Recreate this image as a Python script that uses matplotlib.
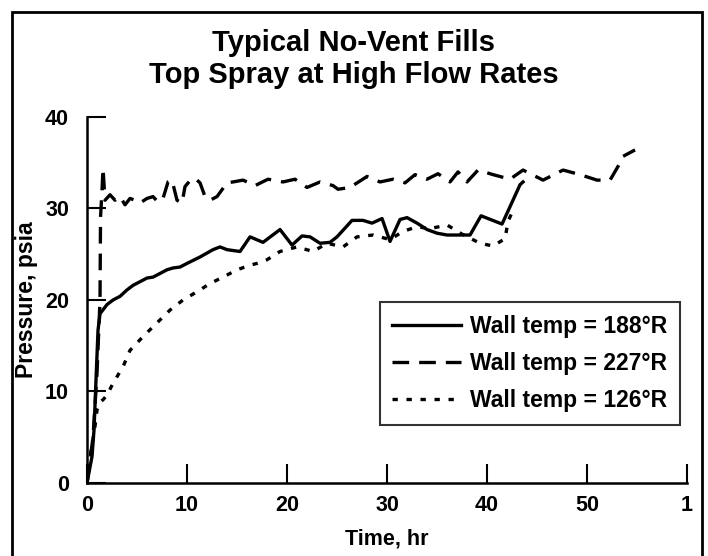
import matplotlib
matplotlib.use("Agg")
import matplotlib.pyplot as plt
from matplotlib.patches import Rectangle

# Data
t_188 = [0, 0.5, 0.7, 0.9, 1.1, 1.3, 2.0, 2.6, 3.3, 4.0, 4.6, 5.3, 6.0, 6.6,
         7.3, 8.0, 8.6, 9.3, 10.0, 11.3, 12.6, 13.3, 14.0, 15.3, 16.3, 17.6,
         19.3, 20.5, 21.5, 22.3, 23.3, 24.3, 25.0, 26.5, 27.6, 28.5, 29.5,
         30.3, 31.3, 32.0, 33.0, 34.0, 35.0, 36.0, 38.3, 39.4, 41.5, 42.3,
         43.3, 43.6]
p_188 = [0, 2.9, 5.8, 11.3, 16.7, 18.5, 19.5, 20.0, 20.4, 21.1, 21.6, 22.0,
         22.4, 22.5, 22.9, 23.3, 23.5, 23.6, 24.0, 24.7, 25.5, 25.8, 25.5,
         25.3, 26.9, 26.3, 27.7, 26.0, 27.0, 26.9, 26.2, 26.3, 26.9, 28.7,
         28.7, 28.4, 28.9, 26.4, 28.8, 29.0, 28.4, 27.7, 27.3, 27.1, 27.1,
         29.2, 28.3, 30.2, 32.6, 32.9]

t_227 = [0, 0.6, 1.0, 1.3, 1.35, 1.5, 1.6, 1.8, 2.3, 2.8, 3.3, 3.8, 4.3, 4.8,
         5.3, 6.0, 6.6, 7.1, 7.6, 8.1, 8.5, 9.0, 9.5, 9.8, 10.5, 11.0, 11.3,
         11.8, 12.3, 13.0, 14.0, 14.6, 15.6, 16.8, 18.1, 19.6, 20.8, 22.0,
         23.3, 24.6, 25.1, 26.3, 28.0, 29.3, 30.6, 31.8, 32.8, 34.0, 35.1,
         36.3, 37.1, 38.0, 39.1, 40.6, 42.3, 43.6, 45.6, 47.6, 49.3, 51.0,
         52.3, 53.1, 53.6, 54.8]
p_227 = [0, 5, 12, 20, 29, 32, 34.4, 30.9, 31.5, 30.9, 31.3, 30.4, 31.1,
         30.9, 30.6, 31.1, 31.3, 30.7, 31.1, 32.9, 33.1, 30.9, 30.6, 32.4,
         33.3, 33.1, 32.8, 31.3, 30.9, 31.3, 32.8, 32.9, 33.1, 32.5, 33.2,
         32.9, 33.2, 32.3, 32.9, 32.5, 32.1, 32.3, 33.5, 32.9, 33.2, 32.8,
         33.7, 33.2, 33.8, 32.9, 34.0, 32.9, 34.2, 33.7, 33.2, 34.2, 33.1,
         34.2, 33.7, 33.1, 33.1, 34.6, 35.7, 36.4]

t_126 = [0, 0.4, 0.8, 1.0, 1.3, 1.6, 2.0, 2.6, 3.6, 4.3, 5.6, 7.0, 8.3, 9.6,
         11.0, 12.3, 13.6, 15.0, 16.3, 17.0, 18.0, 19.3, 21.0, 22.6, 24.0,
         25.6, 27.0, 28.6, 30.3, 31.6, 33.0, 34.3, 36.0, 37.5, 39.3, 40.6,
         41.8, 42.1, 42.6]
p_126 = [0, 3.5, 6.2, 8.0, 8.8, 9.1, 9.6, 10.9, 12.7, 14.5, 16.0, 17.5, 18.9,
         20.0, 20.9, 21.8, 22.5, 23.3, 23.8, 24.0, 24.4, 25.3, 25.8, 25.3,
         26.2, 25.8, 26.9, 27.1, 26.6, 27.5, 28.0, 27.8, 28.2, 27.2, 26.2,
         25.9, 26.7, 28.6, 29.8]

x_ticks = [0, 10, 20, 30, 40, 50, 60]
x_labels = ["0", "10", "20", "30", "40", "50", "1"]
y_ticks = [0, 10, 20, 30, 40]

plt.rcParams["font.family"] = ["Liberation Sans", "DejaVu Sans"]
plt.rcParams["font.weight"] = "bold"

fig = plt.figure(figsize=(7.08, 5.56), dpi=100)
ax = fig.add_axes([0.1229, 0.1313, 0.8475, 0.6583])

lw = 2.4
ax.plot(t_188, p_188, color="black", lw=lw, linestyle="-",
        label="Wall temp = 188°R")
ax.plot(t_227, p_227, color="black", lw=lw, linestyle=(0, (5, 3)),
        label="Wall temp = 227°R")
ax.plot(t_126, p_126, color="black", lw=lw, linestyle=(0, (1.6, 2.6)),
        label="Wall temp = 126°R")

ax.set_xlim(0, 60)
ax.set_ylim(0, 40)
ax.set_xticks(x_ticks)
ax.set_xticklabels(x_labels)
ax.set_yticks(y_ticks)

for side in ["top", "right"]:
    ax.spines[side].set_visible(False)
for side in ["left", "bottom"]:
    ax.spines[side].set_linewidth(1.8)

ax.tick_params(axis="both", direction="in", length=14, width=1.5,
               labelsize=15.5)
ax.tick_params(axis="y", pad=13)
ax.tick_params(axis="x", pad=9)

ax.set_xlabel("Time, hr", fontsize=15.5, fontweight="bold", labelpad=9)
ax.set_ylabel("Pressure, psia", fontsize=16.5, fontweight="bold")
ax.yaxis.set_label_coords(-0.082, 0.5)

# Two-line title, larger than the rest of the text
fig.text(0.5, 0.894, "Typical No-Vent Fills\nTop Spray at High Flow Rates",
         ha="center", va="center", fontsize=21, fontweight="bold",
         linespacing=1.15)

leg = ax.legend(loc="upper left", bbox_to_anchor=(0.488, 0.4945),
                borderaxespad=0, frameon=True, fancybox=False,
                handlelength=3.0, handletextpad=0.4, labelspacing=0.62,
                borderpad=0.55, fontsize=16.5)
leg.get_frame().set_edgecolor("black")
leg.get_frame().set_linewidth(1.5)

# Border around the whole figure (bottom edge is cut off in the scan)
border = Rectangle((12 / 708, -0.1), 690 / 708, 1.1 - 12 / 556,
                   transform=fig.transFigure, fill=False, lw=2.0,
                   edgecolor="black", clip_on=False)
fig.patches.append(border)

plt.savefig("out.png", dpi=100)
